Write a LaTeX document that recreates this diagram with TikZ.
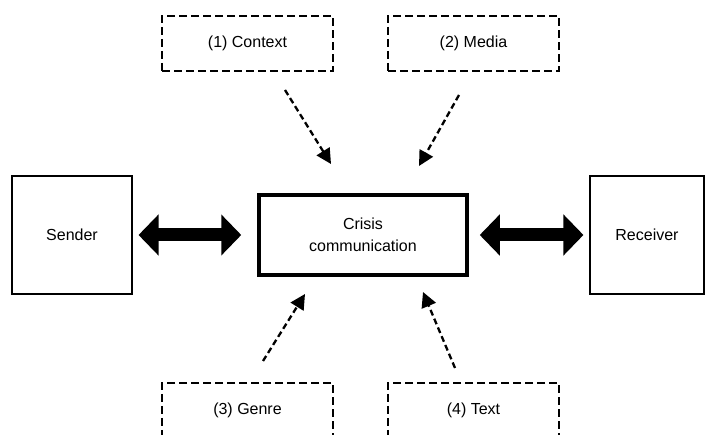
\documentclass[tikz,border=0pt]{standalone}
\usepackage{fontspec}
\setmainfont{Liberation Sans}
\usetikzlibrary{arrows.meta}
\begin{document}
\begin{tikzpicture}[x=1pt,y=-1pt,
  every node/.style={font=\fontsize{16}{21.5}\selectfont, inner sep=0pt, align=center},
  plainbox/.style={draw, line width=1.1pt},
  centerbox/.style={draw, line width=3.5pt},
  dashbox/.style={draw, line width=2.3pt, dash pattern=on 8pt off 4pt},
  bigarrow/.style={line width=13pt, {Triangle[width=40pt,length=20pt]}-{Triangle[width=40pt,length=20pt]}},
  dasharrow/.style={line width=2.3pt, dash pattern=on 6pt off 3.5pt, -{Triangle[width=15pt,length=15pt]}}
]
\useasboundingbox (0,0) rectangle (705,435);
\clip (0,0) rectangle (705,435);
\node[plainbox, minimum width=120pt, minimum height=118pt] (sender) at (72,235) {Sender};
\node[centerbox, minimum width=208pt, minimum height=80pt] (crisis) at (363,235) {Crisis\\communication};
\node[plainbox, minimum width=114pt, minimum height=118pt] (receiver) at (647,235) {Receiver};
\node[dashbox, minimum width=171pt, minimum height=55pt] (context) at (247.5,43.5) {(1) Context};
\node[dashbox, minimum width=171pt, minimum height=55pt] (media) at (473.5,43.5) {(2) Media};
\node[dashbox, minimum width=171pt, minimum height=55pt] (genre) at (247.5,410.5) {(3) Genre};
\node[dashbox, minimum width=171pt, minimum height=55pt] (text) at (473.5,410.5) {(4) Text};

\draw[bigarrow, shorten <=6pt, shorten >=16pt] (sender) -- (crisis);
\draw[bigarrow, shorten <=11pt, shorten >=6pt] (crisis) -- (receiver);

\coordinate (c1s) at (285,90);  \coordinate (c1e) at (331,164);
\coordinate (c2s) at (459,95);  \coordinate (c2e) at (419,166);
\coordinate (c3s) at (263,361); \coordinate (c3e) at (305,294);
\coordinate (c4s) at (455,368); \coordinate (c4e) at (423,292);
\draw[dasharrow] (c1s) -- (c1e);
\draw[dasharrow] (c2s) -- (c2e);
\draw[dasharrow] (c3s) -- (c3e);
\draw[dasharrow] (c4s) -- (c4e);
\end{tikzpicture}
\end{document}
